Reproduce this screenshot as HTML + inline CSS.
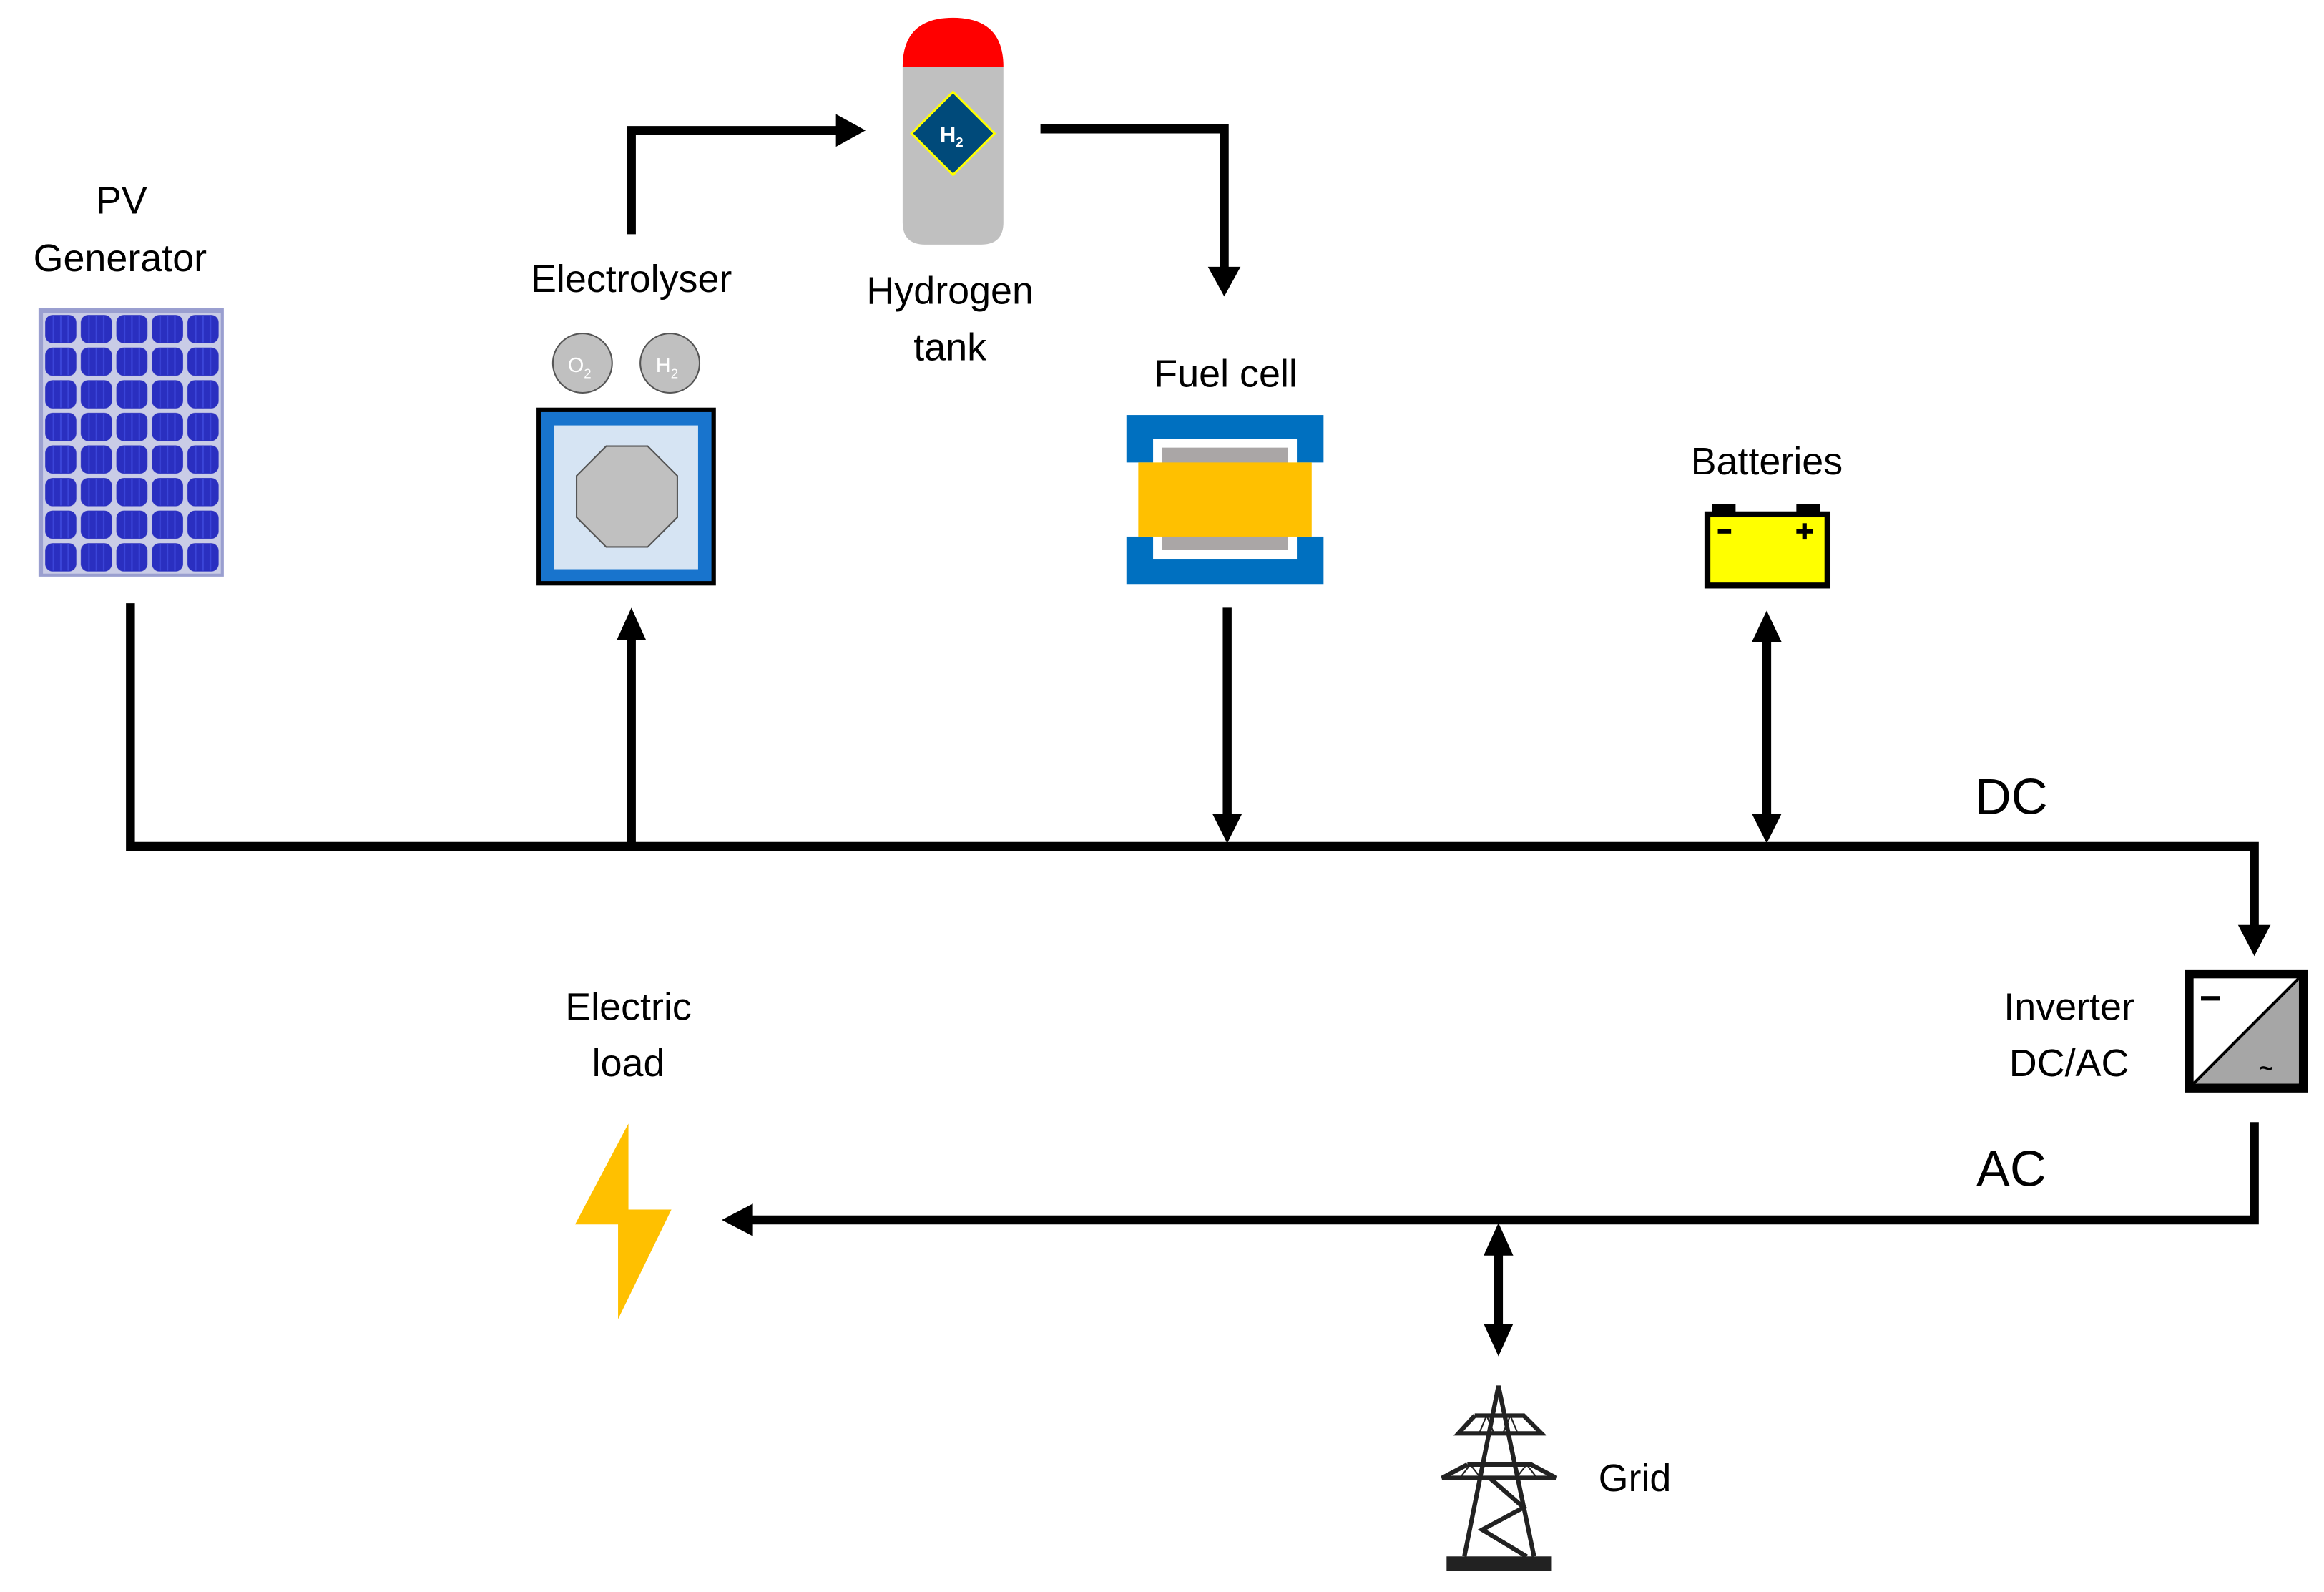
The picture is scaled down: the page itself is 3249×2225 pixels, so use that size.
<!DOCTYPE html>
<html><head><meta charset="utf-8"><style>
html,body{margin:0;padding:0;background:#fff}
svg{display:block}
text{font-family:"Liberation Sans",sans-serif;fill:#000;text-anchor:middle}
</style></head><body>
<svg width="3249" height="2225" viewBox="0 0 1568 1074" preserveAspectRatio="none" xmlns="http://www.w3.org/2000/svg">
<defs>
<pattern id="cells" x="29" y="211" width="24" height="22" patternUnits="userSpaceOnUse">
<rect width="24" height="22" fill="#c9cce6"/>
<rect x="1.5" y="1.5" width="21" height="19" rx="5" fill="#2a2fc0"/>
<line x1="7" y1="2" x2="7" y2="20" stroke="#3b45d8" stroke-width="1"/>
<line x1="12" y1="2" x2="12" y2="20" stroke="#3b45d8" stroke-width="1"/>
<line x1="17" y1="2" x2="17" y2="20" stroke="#3b45d8" stroke-width="1"/>
</pattern>
</defs>
<g font-size="26">
<text x="82" y="144">PV</text>
<text x="81" y="183">Generator</text>
<text x="426" y="197">Electrolyser</text>
<text x="641" y="205">Hydrogen</text>
<text x="641" y="243">tank</text>
<text x="827" y="261">Fuel cell</text>
<text x="1192" y="320">Batteries</text>
<text x="424" y="688">Electric</text>
<text x="424" y="726">load</text>
<text x="1396" y="688">Inverter</text>
<text x="1396" y="726">DC/AC</text>
<text x="1103" y="1006">Grid</text>
</g>
<text x="1357" y="549" font-size="34">DC</text>
<text x="1357" y="800" font-size="34">AC</text>

<rect x="26" y="208" width="125" height="181" fill="#9a9fd0"/>
<rect x="29" y="211" width="120" height="176" fill="url(#cells)"/>

<g stroke="#000" stroke-width="6" fill="none">
<polyline points="88,407 88,571 1521,571 1521,625"/>
<line x1="426" y1="571" x2="426" y2="430"/>
<polyline points="426,158 426,88 565,88"/>
<polyline points="702,87 826,87 826,182"/>
<line x1="828" y1="410" x2="828" y2="550"/>
<line x1="1192" y1="432" x2="1192" y2="550"/>
<polyline points="1521,757 1521,823 505,823"/>
<line x1="1011" y1="845" x2="1011" y2="895"/>
</g>
<g fill="#000">
<polygon points="426,410 416,432 436,432"/>
<polygon points="584,88 564,77 564,99"/>
<polygon points="826,200 815,180 837,180"/>
<polygon points="828,569 818,549 838,549"/>
<polygon points="1192,412 1182,433 1202,433"/>
<polygon points="1192,569 1182,549 1202,549"/>
<polygon points="1521,645 1510,624 1532,624"/>
<polygon points="487,823 508,812 508,834"/>
<polygon points="1011,825 1001,847 1021,847"/>
<polygon points="1011,915 1001,893 1021,893"/>
</g>

<circle cx="393" cy="245" r="20" fill="#c0c0c0" stroke="#555" stroke-width="1"/>
<circle cx="452" cy="245" r="20" fill="#c0c0c0" stroke="#555" stroke-width="1"/>
<text x="391" y="251" font-size="14" style="fill:#fff">O<tspan font-size="9" dy="4">2</tspan></text>
<text x="450" y="251" font-size="14" style="fill:#fff">H<tspan font-size="9" dy="4">2</tspan></text>
<rect x="362" y="275" width="121" height="120" fill="#000"/>
<rect x="365" y="278" width="115" height="114" fill="#1874cd"/>
<rect x="374" y="287" width="97" height="97" fill="#d6e4f3"/>
<polygon points="409,301 437,301 457,321 457,349 437,369 409,369 389,349 389,321" fill="#c0c0c0" stroke="#555" stroke-width="1"/>

<path d="M609,45 Q609,12 643,12 Q677,12 677,45 Z" fill="#ff0000"/>
<path d="M609,45 L677,45 L677,150 Q677,165 662,165 L624,165 Q609,165 609,150 Z" fill="#c0c0c0"/>
<polygon points="643,62 671,90 643,118 615,90" fill="#004a7a" stroke="#ffff00" stroke-width="1.5"/>
<text x="642" y="96" font-size="15" font-weight="bold" style="fill:#fff">H<tspan font-size="9" dy="3">2</tspan></text>

<!-- Fuel cell -->
<rect x="760" y="280" width="133" height="32" fill="#0070c0"/>
<rect x="760" y="362" width="133" height="32" fill="#0070c0"/>
<rect x="778" y="296" width="97" height="81" fill="#fff"/>
<rect x="784" y="302" width="85" height="69" fill="#aaa6a6"/>
<rect x="768" y="312" width="117" height="50" fill="#ffc000"/>

<rect x="1155" y="340" width="16" height="8" fill="#000"/>
<rect x="1212" y="340" width="16" height="8" fill="#000"/>
<rect x="1150" y="345" width="85" height="52" fill="#000"/>
<rect x="1154" y="349" width="77" height="44" fill="#ffff00"/>
<rect x="1159" y="357" width="9" height="3" fill="#000"/>
<rect x="1212" y="357" width="11" height="3" fill="#000"/>
<rect x="1216" y="353" width="3" height="11" fill="#000"/>

<rect x="1474" y="654" width="83" height="83" fill="#000"/>
<rect x="1480" y="660" width="71" height="71" fill="#fff"/>
<polygon points="1551,660 1551,731 1480,731" fill="#a6a6a6"/>
<line x1="1551" y1="660" x2="1480" y2="731" stroke="#000" stroke-width="2"/>
<rect x="1485" y="672" width="13" height="3" fill="#000"/>
<text x="1529" y="726" font-size="16" font-weight="bold">~</text>

<polygon points="424,758 424,816 453,816 417,890 417,826 388,826" fill="#ffc000"/>

<g stroke="#222" fill="none" stroke-width="3">
<polyline points="988,1050 1011,935 1035,1050"/>
<polyline points="995,955 1028,955 1040,967 984,967 995,955"/>
<polyline points="990,988 1033,988 1050,997 973,997 990,988"/>
<polyline points="1005,997 1028,1017 1000,1032 1030,1050"/>
</g>
<g stroke="#222" stroke-width="1" fill="none">
<polyline points="998,967 1003,955 1008,967"/>
<polyline points="1014,967 1019,955 1024,967"/>
<polyline points="985,997 992,988 999,997"/>
<polyline points="1023,997 1030,988 1037,997"/>
</g>
<rect x="976" y="1050" width="71" height="10" fill="#222"/>
</svg>
</body></html>
